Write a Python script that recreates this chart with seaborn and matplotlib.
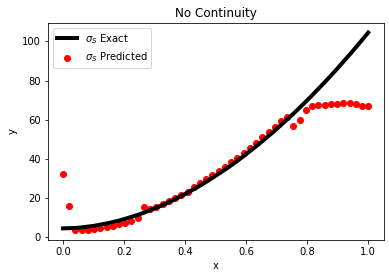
import numpy as np
import pandas as pd
import matplotlib
matplotlib.use("Agg")
import matplotlib.pyplot as plt
import seaborn as sns

# sample grid (50 points from 0 to 1)
x_vals = np.linspace(0, 1, 50)

# exact solution
sigma_exact = [4.5, 4.6, 4.7, 5.0, 5.4, 5.8, 6.4, 7.0, 7.7, 8.5,
               9.4, 10.4, 11.4, 12.5, 13.8, 15.1, 16.4, 17.9, 19.4, 21.0,
               22.7, 24.5, 26.3, 28.3, 30.3, 32.4, 34.5, 36.7, 39.0, 41.4,
               43.9, 46.4, 49.0, 51.7, 54.4, 57.3, 60.2, 63.1, 66.2, 69.3,
               72.5, 75.8, 79.1, 82.5, 86.0, 89.6, 93.2, 96.9, 100.7, 104.5]

# network prediction
sigma_pred = [32.5, 15.8, 3.8, 3.6, 3.7, 4.0, 4.5, 5.0, 5.7, 6.5,
              7.4, 8.4, 9.6, 15.2, 14.3, 15.6, 17.0, 18.5, 20.0, 21.6,
              23.3, 25.8, 27.7, 29.7, 31.8, 33.8, 36.0, 38.2, 40.5, 42.9,
              45.4, 48.3, 51.0, 53.8, 56.5, 59.3, 61.6, 57.0, 59.6, 65.0,
              66.8, 67.3, 67.7, 67.9, 68.2, 68.3, 68.3, 68.2, 67.2, 67.0]

df = pd.DataFrame({'x': x_vals, 'exact': sigma_exact, 'pred': sigma_pred})

fig = plt.figure(figsize=(389 / 72, 278 / 72), dpi=72)
ax = fig.add_axes([0.1226, 0.1367, 0.8633, 0.7816])

sns.lineplot(data=df, x='x', y='exact', color='black', linewidth=4,
             label=r'$\sigma_S$ Exact', ax=ax)
sns.scatterplot(data=df, x='x', y='pred', color='red', edgecolor='red',
                s=36, linewidth=1, label=r'$\sigma_S$ Predicted', ax=ax)

ax.set_title('No Continuity')
ax.set_xlabel('x')
ax.set_ylabel('y')
ax.set_yticks([0, 20, 40, 60, 80, 100])
ax.legend(loc='upper left')

fig.savefig('out.png', dpi=72)
